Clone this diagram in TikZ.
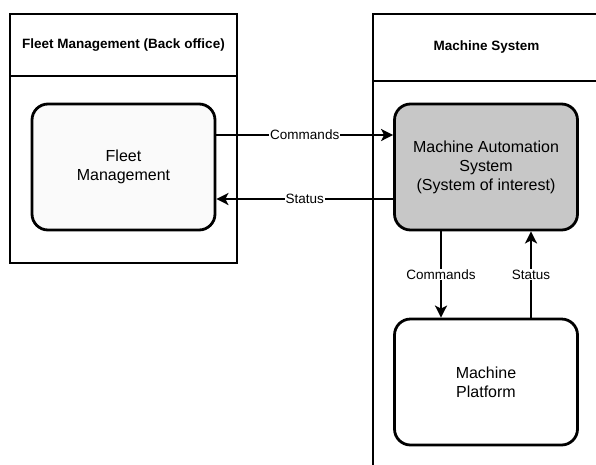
\documentclass[tikz,border=0pt]{standalone}
\usepackage{fontspec}
\setmainfont{Liberation Sans}
\usetikzlibrary{positioning,arrows.meta}

\tikzset{
  lanehead/.style={rectangle,draw,line width=2.8pt,font=\fontsize{13.5}{16}\selectfont\bfseries},
  lanebody/.style={rectangle,draw,line width=2.8pt},
  block/.style={rectangle,rounded corners=16pt,draw,line width=2.8pt,align=center,
    minimum width=183pt,minimum height=126pt,font=\fontsize{16}{19}\selectfont},
  flow/.style={->,line width=2.8pt},
  lbl/.style={fill=white,inner sep=1pt,font=\fontsize{13.5}{16}\selectfont}
}

\begin{document}
\begin{tikzpicture}[x=1pt,y=-1pt,>={Stealth[length=12pt,width=12pt,inset=3pt]}]
  \clip (0,0) rectangle (596,464);
  \fill[white] (0,0) rectangle (596,464);

  % back office lane
  \node[lanehead,minimum width=227pt,minimum height=62pt] (fmhead) at (123.5,45)
    {Fleet Management (Back office)};
  \node[lanebody,minimum width=227pt,minimum height=187pt] (fmbody) at (123.5,169.5) {};

  % machine lane (runs off the page)
  \node[lanebody,minimum width=227pt,minimum height=439pt] (msbody) at (486.5,300.5) {};
  \node[lanehead,minimum width=227pt,minimum height=67pt] (mshead) at (486.5,47.5)
    {Machine System};

  \node[block,fill=black!2] (fleet) at (123.5,167) {Fleet\\Management};
  \node[block,fill=black!22] (mas) at (486,167)
    {Machine Automation\\System\\(System of interest)};
  \node[block,fill=white] (platform) at (486,382) {Machine\\Platform};

  \draw[flow] ([yshift=32pt]fleet.east) -- node[lbl] {Commands} ([yshift=32pt]mas.west);
  \draw[flow] ([yshift=-32pt]mas.west) -- node[lbl] {Status} ([yshift=-32pt]fleet.east);
  \draw[flow] ([xshift=-45pt]mas.south) -- node[lbl] {Commands} ([xshift=-45pt]platform.north);
  \draw[flow] ([xshift=45pt]platform.north) -- node[lbl] {Status} ([xshift=45pt]mas.south);
\end{tikzpicture}
\end{document}
